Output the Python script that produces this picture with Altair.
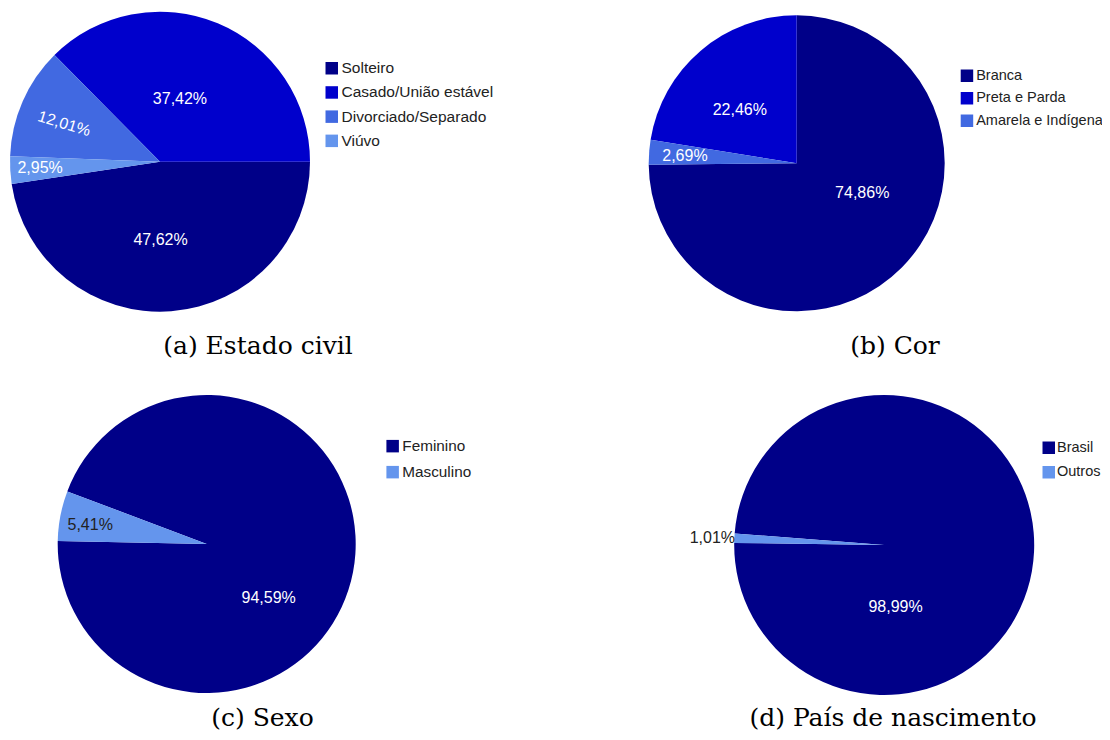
import math
import altair as alt
import pandas as pd

# ---------------- data ----------------
estado_cats = ["Solteiro", "Casado/União estável", "Divorciado/Separado", "Viúvo"]
estado_vals = [47.62, 37.42, 12.01, 2.95]

cor_cats = ["Branca", "Preta e Parda", "Amarela e Indígena"]
cor_vals = [74.86, 22.46, 2.69]

sexo_cats = ["Feminino", "Masculino"]
sexo_vals = [94.59, 5.41]

pais_cats = ["Brasil", "Outros"]
pais_vals = [98.99, 1.01]

captions = ["(a) Estado civil", "(b) Cor", "(c) Sexo", "(d) País de nascimento"]

# ---------------- style / layout ----------------
NAVY, MEDIUM, ROYAL, CORN = "#000088", "#0000CC", "#4169E1", "#6495ED"
WHITE, DARK = "#ffffff", "#222222"
SANS = "Liberation Sans"
SERIF = "DejaVu Serif"

panels = [
    dict(cats=estado_cats, vals=estado_vals, colors=[NAVY, MEDIUM, ROYAL, CORN],
         pie_order=["Solteiro", "Viúvo", "Divorciado/Separado", "Casado/União estável"],
         cx=152, cy=153.7, r=150, start=90,
         nudge=[1.08, -1.4, -0.58, 0.1], lr=[78, 66, 103, 120], ang=[0, 0, 17, 0],
         tc=[WHITE, WHITE, WHITE, WHITE],
         legend=(316, 52.5, 7.2, 15.5, 2), caption=(250, 346)),
    dict(cats=cor_cats, vals=cor_vals, colors=[NAVY, MEDIUM, ROYAL],
         pie_order=["Branca", "Amarela e Indígena", "Preta e Parda"],
         cx=788.7, cy=155.3, r=148, start=0,
         nudge=[-5.63, -1.78, -0.17], lr=[72, 78, 112], ang=[0, 0, 0],
         tc=[WHITE, WHITE, WHITE],
         legend=(951.7, 60.5, 7.5, 14.5, 2), caption=(887, 345.5)),
    dict(cats=sexo_cats, vals=sexo_vals, colors=[NAVY, CORN],
         pie_order=["Masculino", "Feminino"],
         cx=198.7, cy=536, r=149, start=271.2,
         nudge=[8.32, -0.51], lr=[82, 118], ang=[0, 0],
         tc=[WHITE, DARK],
         legend=(377, 430.5, 10, 15.3, 2), caption=(254.5, 718)),
    dict(cats=pais_cats, vals=pais_vals, colors=[NAVY, CORN],
         pie_order=["Outros", "Brasil"],
         cx=876.2, cy=537, r=150, start=270.8,
         nudge=[21.4, -0.06], lr=[63, 172], ang=[0, 0],
         tc=[WHITE, DARK],
         legend=(1033.5, 432.5, 9.5, 14.5, 1), caption=(885, 718)),
]


def fmt(v):
    return f"{v:.2f}".replace(".", ",") + "%"


def pie(p):
    cats, vals = p["cats"], p["vals"]
    df = pd.DataFrame({
        "cat": cats,
        "val": vals,
        "ord": [p["pie_order"].index(c) for c in cats],
        "lab": [fmt(v) for v in vals],
        "nudge": p["nudge"],
        "lr": p["lr"],
        "ang": p["ang"],
        "tc": p["tc"],
    })
    total = sum(vals)
    s = math.radians(p["start"])
    tscale = alt.Scale(domain=[0, total], range=[s, s + 2 * math.pi])
    base = alt.Chart(df).transform_window(
        end="sum(val)", sort=[alt.SortField("ord")]
    ).transform_calculate(
        start="datum.end - datum.val",
        mid="datum.end - datum.val / 2 + datum.nudge",
    )
    lx, ly, rp, lfs, loff = p["legend"]
    arc = base.mark_arc(radius=p["r"]).encode(
        x=alt.value(p["cx"]),
        y=alt.value(p["cy"]),
        theta=alt.Theta("start:Q", scale=tscale, stack=False),
        theta2="end:Q",
        color=alt.Color(
            "cat:N",
            scale=alt.Scale(domain=cats, range=p["colors"]),
            legend=alt.Legend(
                orient="none", legendX=lx, legendY=ly, title=None,
                symbolType="square", symbolSize=156, symbolStrokeWidth=0,
                symbolOpacity=1,
                labelFont=SANS, labelFontSize=lfs, labelColor=DARK,
                labelOffset=loff, rowPadding=rp, padding=0, labelLimit=300,
            ),
        ),
    )
    text = base.mark_text(font=SANS, fontSize=16, align="center", baseline="middle").encode(
        x=alt.value(p["cx"]),
        y=alt.value(p["cy"]),
        theta=alt.Theta("mid:Q", scale=tscale, stack=False),
        radius=alt.Radius("lr:Q", scale=None),
        angle=alt.Angle("ang:Q", scale=None),
        fill=alt.Fill("tc:N", scale=None),
        text="lab:N",
    )
    return alt.layer(arc, text)


def caption(text, pos):
    return alt.Chart(pd.DataFrame({"cap": [text]})).mark_text(
        font=SERIF, fontSize=25, align="center", baseline="alphabetic", color="#000000"
    ).encode(x=alt.value(pos[0]), y=alt.value(pos[1]), text="cap:N")


layers = [pie(p) for p in panels] + [caption(c, p["caption"]) for c, p in zip(captions, panels)]

chart = alt.layer(*layers).resolve_scale(
    theta="independent", color="independent"
).properties(
    width=1094, height=724, padding=0,
    autosize=alt.AutoSizeParams(type="none"),
    background="white",
).configure_view(stroke=None)

chart.save("out.html", embed_options={"renderer": "svg", "actions": False})
